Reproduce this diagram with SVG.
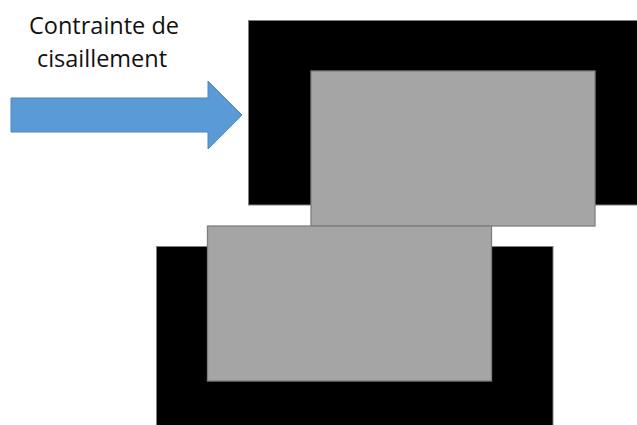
<svg xmlns="http://www.w3.org/2000/svg" width="637" height="425" viewBox="0 0 637 425">
<style>
.blk{fill:#000;stroke:#7f7f7f;stroke-width:1}
.gry{fill:#a5a5a5;stroke:#7f7f7f;stroke-width:1.3}
.lbl{font-family:"Open Sans","Noto Sans",sans-serif;font-size:23.5px;fill:#111;text-anchor:middle}
</style>
<rect width="637" height="425" fill="#fff"/>
<g id="top-block"><rect class="blk" x="248.5" y="20.5" width="400" height="184.5"/></g>
<g id="bottom-block"><rect class="blk" x="156.5" y="246.5" width="396.5" height="190"/></g>
<g id="top-plate"><rect class="gry" x="311" y="71" width="284" height="155"/></g>
<g id="bottom-plate"><rect class="gry" x="207.5" y="226" width="284" height="155"/></g>
<g id="label"><text class="lbl" x="104" y="34">Contrainte de</text><text class="lbl" x="102" y="67">cisaillement</text></g>
<g id="connectors"><polygon points="11,98 208,98 208,81 242,115 208,149 208,132 11,132" fill="#5b9bd5" stroke="#4a86bf" stroke-width="1"/></g>
</svg>
